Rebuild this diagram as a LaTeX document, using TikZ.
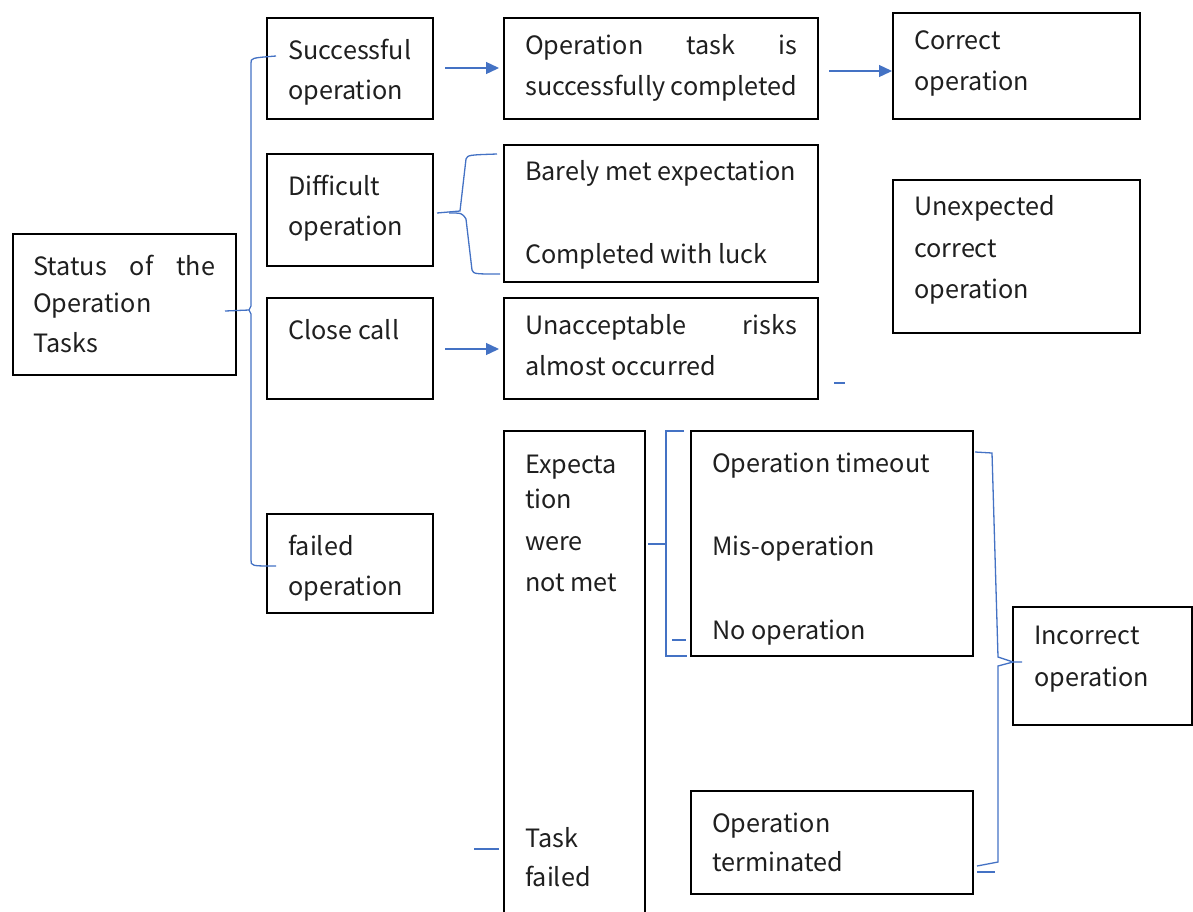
\documentclass[tikz,border=0pt]{standalone}
\usepackage{fontspec}
\setmainfont{Noto Sans CJK SC}
\usetikzlibrary{arrows.meta}
\definecolor{bl}{HTML}{4472C4}
\begin{document}
\begin{tikzpicture}[x=1pt,y=-1pt,
 box/.style={draw=black, line width=1.3pt, rectangle, inner sep=0pt},
 txt/.style={anchor=base west, inner sep=0pt, font=\fontsize{25.2}{30}\selectfont, text=black!88},
 link/.style={draw=bl, line width=1.3pt},
 arr/.style={link, -{Triangle[length=13pt,width=12pt]}}]
\clip (0,0) rectangle (1193,911);
% boxes
\node[box, minimum width=223pt, minimum height=141pt] (status) at (124.5,304.5) {};
\node[box, minimum width=166pt, minimum height=101pt] (succ) at (350,68.5) {};
\node[box, minimum width=166pt, minimum height=112pt] (diff) at (350,210) {};
\node[box, minimum width=166pt, minimum height=101pt] (close) at (350,348.5) {};
\node[box, minimum width=166pt, minimum height=99pt] (failed) at (350,563.5) {};
\node[box, minimum width=314pt, minimum height=101pt] (task) at (661,68.5) {};
\node[box, minimum width=314pt, minimum height=137pt] (barely) at (661,213.5) {};
\node[box, minimum width=314pt, minimum height=101pt] (unacc) at (661,348.5) {};
\node[box, minimum width=141pt, minimum height=509pt] (expect) at (574.5,685.5) {};
\node[box, minimum width=282pt, minimum height=225pt] (timeout) at (832,543.5) {};
\node[box, minimum width=247pt, minimum height=106pt] (correct) at (1016.5,66) {};
\node[box, minimum width=247pt, minimum height=153pt] (unexp) at (1016.5,256.5) {};
\node[box, minimum width=179pt, minimum height=118pt] (incorrect) at (1102.5,666) {};
\node[box, minimum width=282pt, minimum height=103pt] (term) at (832,842.5) {};
% texts
\node[txt] (t1) at (33,275) {\makebox[182pt][s]{Status of the}};
\node[txt] (t2) at (33,312) {Operation};
\node[txt] (t3) at (33,352) {Tasks};
\node[txt] (s1) at (288,59) {Successful};
\node[txt] (s2) at (288,99) {operation};
\node[txt] (d1) at (288,195) {Difficult};
\node[txt] (d2) at (288,235) {operation};
\node[txt] (c1) at (288,339) {Close call};
\node[txt] (f1) at (288,555) {failed};
\node[txt] (f2) at (288,595) {operation};
\node[txt] (k1) at (525,54) {\makebox[272pt][s]{Operation task is}};
\node[txt] (k2) at (525,95) {successfully completed};
\node[txt] (b1) at (525,180) {Barely met expectation};
\node[txt] (b2) at (525,263) {Completed with luck};
\node[txt] (u1) at (525,334) {\makebox[272pt][s]{Unacceptable risks}};
\node[txt] (u2) at (525,375) {almost occurred};
\node[txt] (e1) at (525,473) {Expecta};
\node[txt] (e2) at (525,508) {tion};
\node[txt] (e3) at (525,550) {were};
\node[txt] (e4) at (525,591) {not met};
\node[txt] (e5) at (525,847) {Task};
\node[txt] (e6) at (525,886) {failed};
\node[txt] (o1) at (712,472) {Operation timeout};
\node[txt] (o2) at (712,555) {Mis-operation};
\node[txt] (o3) at (712,639) {No operation};
\node[txt] (r1) at (914,49) {Correct};
\node[txt] (r2) at (914,90) {operation};
\node[txt] (x1) at (914,215) {Unexpected};
\node[txt] (x2) at (914,257) {correct};
\node[txt] (x3) at (914,298) {operation};
\node[txt] (i1) at (1034,644) {Incorrect};
\node[txt] (i2) at (1034,686) {operation};
\node[txt] (m1) at (712,832) {Operation};
\node[txt] (m2) at (712,871) {terminated};
% arrows
\coordinate (a1s) at (445,68); \coordinate (a1e) at (499,68);
\coordinate (a2s) at (829,71); \coordinate (a2e) at (892,71);
\coordinate (a3s) at (445,349); \coordinate (a3e) at (499,349);
\draw[arr] (a1s) -- (a1e);
\draw[arr] (a2s) -- (a2e);
\draw[arr] (a3s) -- (a3e);
% brace A
\coordinate (A0) at (225,311); \coordinate (Am) at (249,310);
\coordinate (At) at (276,56); \coordinate (Ab) at (276,566);
\draw[link] (A0) -- (Am) -- (251,306) -- (251,63) .. controls (251,58) .. (At);
\draw[link] (Am) -- (251,314) -- (251,560) .. controls (251,566) .. (Ab);
% brace B
\coordinate (B0) at (437,213); \coordinate (Bm) at (460,211);
\coordinate (Bt) at (497,154); \coordinate (Bb) at (500,274);
\draw[link] (B0) -- (Bm) -- (466,159) .. controls (468,155) .. (Bt);
\draw[link] (449,213) .. controls (462,213) .. (466,219) -- (472,270) .. controls (474,274) .. (Bb);
% brace C
\coordinate (C0) at (648,544); \coordinate (Cm) at (666,544);
\coordinate (Ct) at (684,431); \coordinate (Cb) at (687,656);
\draw[link] (C0) -- (Cm);
\draw[link] (Ct) -- (666,431) -- (666,656) -- (Cb);
\coordinate (Cd1) at (672,640); \coordinate (Cd2) at (686,640);
\draw[link] (Cd1) -- (Cd2);
% brace D
\coordinate (D0) at (975,452); \coordinate (Dm) at (1013,662);
\coordinate (Db) at (977,866);
\draw[link] (D0) -- (992,453) -- (998,657) -- (Dm) -- (1022,662);
\draw[link] (Dm) -- (998,666) -- (998,862) -- (Db);
\coordinate (Dd1) at (977,872); \coordinate (Dd2) at (995,872);
\draw[link] (Dd1) -- (Dd2);
% stray dashes
\coordinate (z1) at (834,383); \coordinate (z2) at (845,383);
\draw[link] (z1) -- (z2);
\coordinate (z3) at (474,849); \coordinate (z4) at (499,849);
\draw[link] (z3) -- (z4);
\end{tikzpicture}
\end{document}
